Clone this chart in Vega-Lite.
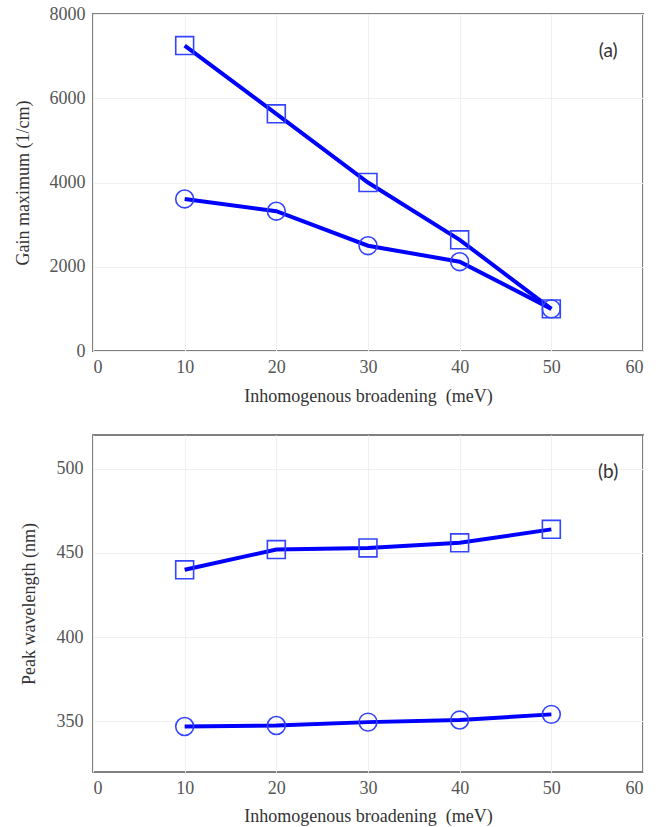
{
  "$schema": "https://vega.github.io/schema/vega-lite/v6.json",
  "padding": {"left": 13, "top": 4, "right": 10, "bottom": 2},
  "spacing": 28,
  "background": "white",
  "datasets": {
    "gain": [
      {"series": "square", "broadening": 10, "value": 7250},
      {"series": "square", "broadening": 20, "value": 5630},
      {"series": "square", "broadening": 30, "value": 4000},
      {"series": "square", "broadening": 40, "value": 2640},
      {"series": "square", "broadening": 50, "value": 1000},
      {"series": "circle", "broadening": 10, "value": 3610},
      {"series": "circle", "broadening": 20, "value": 3320},
      {"series": "circle", "broadening": 30, "value": 2500},
      {"series": "circle", "broadening": 40, "value": 2120},
      {"series": "circle", "broadening": 50, "value": 1000}
    ],
    "peak": [
      {"series": "square", "broadening": 10, "value": 440},
      {"series": "square", "broadening": 20, "value": 452},
      {"series": "square", "broadening": 30, "value": 453},
      {"series": "square", "broadening": 40, "value": 456},
      {"series": "square", "broadening": 50, "value": 464},
      {"series": "circle", "broadening": 10, "value": 347},
      {"series": "circle", "broadening": 20, "value": 347.6},
      {"series": "circle", "broadening": 30, "value": 349.6},
      {"series": "circle", "broadening": 40, "value": 350.8},
      {"series": "circle", "broadening": 50, "value": 354.2}
    ],
    "labelA": [{"broadening": 56.2, "value": 7120, "label": "(a)"}],
    "labelB": [{"broadening": 56.2, "value": 498, "label": "(b)"}]
  },
  "config": {
    "font": "Liberation Serif",
    "view": {"stroke": "#808080", "strokeWidth": 2},
    "axis": {
      "domain": false,
      "ticks": false,
      "grid": true,
      "gridColor": "#f0f0f0",
      "gridWidth": 1,
      "labelFont": "Liberation Serif",
      "labelFontSize": 18,
      "labelColor": "#555555",
      "titleFont": "Liberation Serif",
      "titleFontSize": 18,
      "titleFontWeight": "normal",
      "titleColor": "#333333"
    }
  },
  "vconcat": [
    {
      "width": 550,
      "height": 337,
      "layer": [
        {
          "data": {"name": "gain"},
          "mark": {"type": "line", "color": "#0000ff", "strokeWidth": 4},
          "encoding": {
            "x": {"field": "broadening", "type": "quantitative", "scale": {"domain": [0, 60], "nice": false}, "axis": {"values": [0, 10, 20, 30, 40, 50, 60], "format": "d", "labelFont": "Liberation Serif", "title": "Inhomogenous broadening \u00a0(meV)", "labelPadding": 7, "titlePadding": 11}},
            "y": {"field": "value", "type": "quantitative", "scale": {"domain": [0, 8000], "nice": false}, "axis": {"values": [0, 2000, 4000, 6000, 8000], "format": "d", "labelFont": "Liberation Serif", "title": "Gain maximum (1/cm)", "labelPadding": 8, "titlePadding": 17}},
            "detail": {"field": "series"}
          }
        },
        {
          "data": {"name": "gain"},
          "mark": {"type": "point", "filled": false, "stroke": "#3344ff", "strokeWidth": 1.6, "size": 320, "opacity": 1},
          "encoding": {
            "x": {"field": "broadening", "type": "quantitative"},
            "y": {"field": "value", "type": "quantitative"},
            "shape": {"field": "series", "type": "nominal", "scale": {"domain": ["square", "circle"], "range": ["square", "circle"]}, "legend": null}
          }
        },
        {
          "data": {"name": "labelA"},
          "mark": {"type": "text", "font": "Lato", "fontSize": 19, "color": "#333333", "align": "center", "baseline": "middle"},
          "encoding": {
            "x": {"field": "broadening", "type": "quantitative"},
            "y": {"field": "value", "type": "quantitative"},
            "text": {"field": "label"}
          }
        }
      ]
    },
    {
      "width": 550,
      "height": 337,
      "layer": [
        {
          "data": {"name": "peak"},
          "mark": {"type": "line", "color": "#0000ff", "strokeWidth": 4},
          "encoding": {
            "x": {"field": "broadening", "type": "quantitative", "scale": {"domain": [0, 60], "nice": false}, "axis": {"values": [0, 10, 20, 30, 40, 50, 60], "format": "d", "labelFont": "Liberation Serif", "title": "Inhomogenous broadening \u00a0(meV)", "labelPadding": 7, "titlePadding": 10}},
            "y": {"field": "value", "type": "quantitative", "scale": {"domain": [320, 520], "nice": false, "zero": false}, "axis": {"values": [350, 400, 450, 500], "format": "d", "labelFont": "Liberation Serif", "title": "Peak wavelength (nm)", "labelPadding": 10, "titlePadding": 18}},
            "detail": {"field": "series"}
          }
        },
        {
          "data": {"name": "peak"},
          "mark": {"type": "point", "filled": false, "stroke": "#3344ff", "strokeWidth": 1.6, "size": 320, "opacity": 1},
          "encoding": {
            "x": {"field": "broadening", "type": "quantitative"},
            "y": {"field": "value", "type": "quantitative"},
            "shape": {"field": "series", "type": "nominal", "scale": {"domain": ["square", "circle"], "range": ["square", "circle"]}, "legend": null}
          }
        },
        {
          "data": {"name": "labelB"},
          "mark": {"type": "text", "font": "Lato", "fontSize": 19, "color": "#333333", "align": "center", "baseline": "middle"},
          "encoding": {
            "x": {"field": "broadening", "type": "quantitative"},
            "y": {"field": "value", "type": "quantitative"},
            "text": {"field": "label"}
          }
        }
      ]
    }
  ]
}
